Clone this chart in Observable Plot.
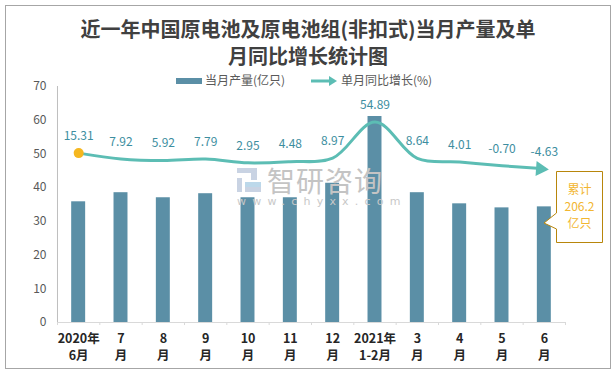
<!DOCTYPE html>
<html><head><meta charset="utf-8">
<script src="https://cdn.jsdelivr.net/npm/d3@7"></script>
<script src="https://cdn.jsdelivr.net/npm/@observablehq/plot@0.6"></script>
<style>
body{margin:0;background:#fff;font-family:"Noto Sans CJK SC","Noto Sans",sans-serif;}
#wrap{position:relative;width:616px;height:374px;overflow:hidden;background:#fff}
#chart{position:absolute;left:0;top:0}
#border{position:absolute;left:5px;top:5px;width:606px;height:364px;border:1px solid #a6a6a6;box-sizing:border-box;pointer-events:none}
#title{position:absolute;left:0;top:15px;width:616px;text-align:center;font-size:20px;line-height:27px;font-weight:bold;color:#404040;font-family:"Noto Sans CJK SC",sans-serif}
#legend{position:absolute;top:71px;left:0;width:616px;font-size:12px;color:#595959;height:18px}
#legend .it{position:absolute;top:0;line-height:18px;white-space:nowrap}
#wm{position:absolute;left:237px;top:163px;width:150px;height:50px;pointer-events:none}
#callout{position:absolute;left:0;top:0}
#calltext{position:absolute;left:556px;top:180px;width:47px;text-align:center;font-size:12px;line-height:17px;color:#f2b630}
</style></head>
<body>
<div id="wrap">
  <div id="chart"></div>
  <div id="wm">
    <div style="position:absolute;left:0;top:5px;width:24px;height:24px;">
      <div style="position:absolute;left:0;top:0;width:20px;height:5px;background:#c9d3e3"></div>
      <div style="position:absolute;left:14px;top:0;width:6px;height:12px;background:#c9d3e3"></div>
      <div style="position:absolute;left:0;top:10px;width:5px;height:14px;background:#c9d3e3"></div>
      <div style="position:absolute;left:8px;top:14px;width:16px;height:5px;background:#bcd8ea"></div>
      <div style="position:absolute;left:8px;top:19px;width:16px;height:5px;background:#c9d3e3"></div>
    </div>
    <div style="position:absolute;left:30px;top:2px;font-size:28px;line-height:30px;color:#c4c4c4;letter-spacing:1px;">智研咨询</div>
    <div style="position:absolute;left:0;top:32px;font-size:11px;line-height:14px;color:#c8c8c8;letter-spacing:6.2px;font-family:'DejaVu Sans',sans-serif;">www.chyxx.com</div>
  </div>
  <div id="title">近一年中国原电池及原电池组(非扣式)当月产量及单<br>月同比增长统计图</div>
  <div id="legend">
    <div class="it" style="left:176px;"><span style="display:inline-block;width:26px;height:6px;background:#5b8fa6;vertical-align:middle;margin-right:3px;position:relative;top:-1px"></span>当月产量(亿只)</div>
    <div class="it" style="left:311px;"><svg width="27" height="10" style="vertical-align:middle;margin-right:3px;position:relative;top:-1px"><line x1="0" y1="5" x2="20" y2="5" stroke="#5cbdb4" stroke-width="3"/><polygon points="18,0 26,5 18,10" fill="#5cbdb4"/></svg>单月同比增长(%)</div>
  </div>
  <svg id="callout" width="616" height="374"><path d="M556.5,171.5 H602.5 V242.5 H556.5 V229 L544,223 L556.5,213 Z" fill="#fff" stroke="#b8860b" stroke-width="1"/></svg>
  <div id="calltext">累计<br>206.2<br>亿只</div>
  <div id="border"></div>
</div>
<script>
// ---- data ----
const months = ["2020年\n6月","7\n月","8\n月","9\n月","10\n月","11\n月","12\n月","2021年\n1-2月","3\n月","4\n月","5\n月","6\n月"];
const output = [35.8, 38.5, 37.0, 38.2, 37.0, 37.0, 41.3, 61.1, 38.5, 35.2, 34.0, 34.3]; // 当月产量(亿只)
const growth = [15.31, 7.92, 5.92, 7.79, 2.95, 4.48, 8.97, 54.89, 8.64, 4.01, -0.70, -4.63]; // 单月同比增长(%)
const growthLabels = ["15.31","7.92","5.92","7.79","2.95","4.48","8.97","54.89","8.64","4.01","-0.70","-4.63"];
const yTicks = [0, 10, 20, 30, 40, 50, 60, 70];
const primaryDomain = [0, 70];
const secondaryDomain = [-200, 100]; // hidden secondary axis for growth

// ---- layout ----
const W = 616, H = 374, mL = 57, mR = 51, mT = 86, mB = 52;
const step = (W - mL - mR) / months.length;
const toPrimary = d3.scaleLinear(secondaryDomain, primaryDomain);

const data = months.map((m, i) => ({
  month: m, output: output[i], growth: growth[i], g: toPrimary(growth[i]), label: growthLabels[i]
}));
const last = data[data.length - 1];
const prev = data[data.length - 2];

const plot = Plot.plot({
  width: W, height: H,
  marginLeft: mL, marginRight: mR, marginTop: mT, marginBottom: mB,
  style: {background: "transparent", fontFamily: "'Noto Sans CJK SC','Noto Sans',sans-serif", overflow: "visible"},
  x: {domain: months, paddingInner: 0.67, paddingOuter: 0.335, round: false, label: null},
  y: {domain: primaryDomain, label: null},
  marks: [
    Plot.barY(data, {x: "month", y: "output", fill: "#5b8fa6"}),
    Plot.ruleY([0], {stroke: "#d9d9d9", strokeWidth: 1}),
    Plot.ruleX([months[0]], {x: d => d, dx: -step / 2, y1: 0, y2: 70, stroke: "#bfbfbf"}),
    Plot.ruleX(months, {x: d => d, dx: -step / 2, y1: 0, y2: -0.9, stroke: "#d9d9d9"}),
    Plot.ruleX([months[months.length - 1]], {x: d => d, dx: step / 2, y1: 0, y2: -0.9, stroke: "#d9d9d9"}),
    Plot.axisY({ticks: yTicks, tickSize: 0, tickPadding: 11, fontSize: 12, color: "#595959", fill: "#595959", label: null}),
    Plot.axisX({tickSize: 0, tickPadding: 8, fontSize: 12.5, fontWeight: "bold", lineHeight: 1.4, color: "#262626", fill: "#262626", label: null}),
    Plot.line(data, {x: "month", y: "g", stroke: "#5cbdb4", strokeWidth: 3, curve: "catmull-rom"}),
    Plot.dot([last], {x: "month", y: "g", symbol: "triangle", r: 5.5, fill: "#5cbdb4", stroke: "none", dx: -4,
      rotate: 90 + Math.atan2((prev.g - last.g) * 3.37, step) * 180 / Math.PI}),
    Plot.dot([data[0]], {x: "month", y: "g", r: 5, fill: "#f5b720", stroke: "none"}),
    Plot.text(data, {x: "month", y: "g", text: "label", dy: -17, fill: "#3d8ea0", fontSize: 12})
  ]
});
document.getElementById("chart").appendChild(plot);
</script>
</body></html>
